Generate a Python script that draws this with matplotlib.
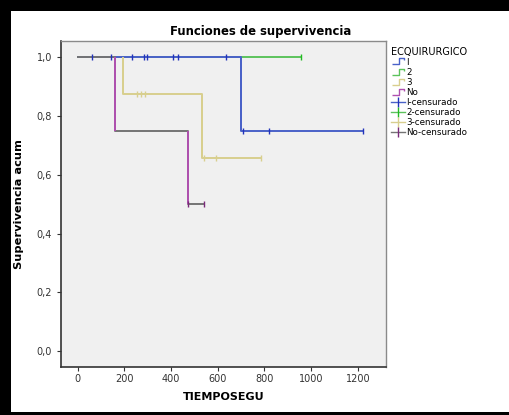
import matplotlib
matplotlib.use('Agg')
import matplotlib.pyplot as plt
from matplotlib.lines import Line2D
from matplotlib.path import Path
from matplotlib.patches import Rectangle


### Data

groups = ['I', '2', '3', 'No']

# step curves: times where survival changes, and the survival after each step
curve_times = {
    'I': [0, 699, 1224],
    '2': [0, 956],
    '3': [0, 193, 533, 786],
    'No': [0, 160, 474, 541],
}
curve_surv = {
    'I': [1.0, 0.75, 0.75],
    '2': [1.0, 1.0],
    '3': [1.0, 0.875, 0.656, 0.656],
    'No': [1.0, 0.75, 0.5, 0.5],
}

# censored observations
cens_times = {
    'I': [63, 143, 234, 284, 296, 410, 429, 636, 706, 819, 1224],
    '2': [956],
    '3': [253, 271, 288, 543, 594, 786],
    'No': [474, 541],
}
cens_surv = {
    'I': [1.0, 1.0, 1.0, 1.0, 1.0, 1.0, 1.0, 1.0, 0.75, 0.75, 0.75],
    '2': [1.0],
    '3': [0.875, 0.875, 0.875, 0.656, 0.656, 0.656],
    'No': [0.5, 0.5],
}

x_ticks = [0, 200, 400, 600, 800, 1000, 1200]
y_ticks = [0.0, 0.2, 0.4, 0.6, 0.8, 1.0]

line_colors = {'I': '#4a62c8', '2': '#5cc35c', '3': '#d8cf8e', 'No': '#747474'}
drop_colors = {'I': '#4a62c8', '2': '#5cc35c', '3': '#d8cf8e', 'No': '#b050b0'}
cens_colors = {'I': '#2233bb', '2': '#22bb22', '3': '#d8cf8e', 'No': '#7a2a7a'}


### Plot

fig = plt.figure(figsize=(5.1, 4.15), dpi=100)
fig.patch.set_facecolor('black')
fig.patches.append(Rectangle((11 / 510, 3 / 415), 499 / 510, 401 / 415,
                             transform=fig.transFigure, facecolor='white',
                             edgecolor='none', zorder=-5))

ax = fig.add_axes([61 / 510, 48 / 415, 325 / 510, 326 / 415])
ax.set_facecolor('#f0f0f0')

for g in ['3', '2', 'I', 'No']:
    t = curve_times[g]
    s = curve_surv[g]
    ax.step(t, s, where='post', color=line_colors[g], lw=1.4, zorder=2)
    # vertical drops
    for i in range(1, len(t)):
        if s[i] != s[i - 1]:
            ax.vlines(t[i], s[i], s[i - 1], color=drop_colors[g], lw=1.4, zorder=3)
    ax.plot(cens_times[g], cens_surv[g], linestyle='none', marker='|',
            markersize=5, mew=1.0, color=cens_colors[g], zorder=4)

ax.set_xlim(-72, 1321)
ax.set_ylim(-0.054, 1.055)
ax.set_xticks(x_ticks)
ax.set_yticks(y_ticks)
ax.set_yticklabels([('%.1f' % v).replace('.', ',') for v in y_ticks])
ax.tick_params(axis='both', labelsize=7, direction='out', length=3,
               color='#333333', labelcolor='#333333')
ax.tick_params(axis='x', pad=2)

for side in ['left', 'bottom']:
    ax.spines[side].set_color('#333333')
    ax.spines[side].set_linewidth(1.2)
for side in ['top', 'right']:
    ax.spines[side].set_color('#8a8a8a')
    ax.spines[side].set_linewidth(1.0)

ax.set_xlabel('TIEMPOSEGU', fontsize=8, fontweight='bold', labelpad=6)
ax.set_ylabel('Supervivencia acum', fontsize=8.2, fontweight='bold', labelpad=9)
fig.text(261 / 510, 384 / 415, 'Funciones de supervivencia', ha='center',
         va='center', fontsize=8.4, fontweight='bold')

# legend
step_path = Path([(-1, -0.5), (0.1, -0.5), (0.1, 0.5), (1, 0.5), (1, 0.1)])
handles = []
labels = []
for g in groups:
    handles.append(Line2D([], [], linestyle='none', marker=step_path,
                          markersize=8, fillstyle='none', mew=1.0,
                          markeredgecolor=drop_colors[g]))
    labels.append(g)
for g in groups:
    handles.append(Line2D([], [], color=line_colors[g], lw=1.0, marker='|',
                          markersize=7, mew=1.0, markeredgecolor=cens_colors[g]))
    labels.append(g + '-censurado')

leg = fig.legend(handles, labels, title='ECQUIRURGICO', loc='upper left',
                 bbox_to_anchor=(388 / 510, 372 / 415), frameon=False,
                 fontsize=6.3, title_fontsize=7, handlelength=1.5,
                 handletextpad=0.2, labelspacing=0.12, borderaxespad=0)
leg._legend_box.align = 'left'

plt.savefig('out.png', dpi=100, facecolor=fig.get_facecolor())
plt.close(fig)
